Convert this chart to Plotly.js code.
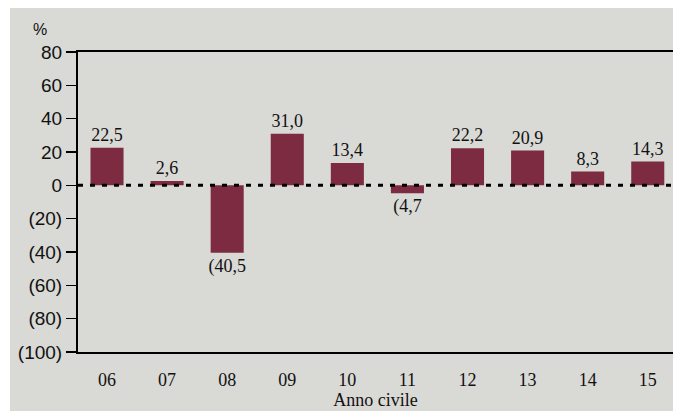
<!DOCTYPE html>
<html>
<head>
<meta charset="utf-8">
<script src="https://cdn.plot.ly/plotly-3.0.1.min.js"></script>
<style>
html,body{margin:0;padding:0;background:#fff;}
#chart{width:673px;height:411px;}
</style>
</head>
<body>
<div id="chart"></div>
<script>
var categories = ["06","07","08","09","10","11","12","13","14","15"];
var values = [22.5, 2.6, -40.5, 31.0, 13.4, -4.7, 22.2, 20.9, 8.3, 14.3];
var yTickVals = [80, 60, 40, 20, 0, -20, -40, -60, -80, -100];
var yTickText = ["80","60","40","20","0","(20)","(40)","(60)","(80)","(100)"];

function fmt(v){
  var s = Math.abs(v).toFixed(1).replace('.', ',');
  return v < 0 ? '(' + s : s;
}
var labels = values.map(fmt);

var trace = {
  type: 'bar',
  x: categories,
  y: values,
  width: 0.55,
  marker: {color: '#7C2B40', line: {width: 0}},
  text: labels,
  textposition: 'outside',
  constraintext: 'none',
  cliponaxis: false,
  textfont: {family: 'Liberation Serif, serif', size: 18, color: '#111'},
  hoverinfo: 'skip'
};

var layout = {
  width: 673, height: 411,
  margin: {l: 78, r: 0, t: 52, b: 59, pad: 0},
  paper_bgcolor: '#ffffff',
  plot_bgcolor: 'rgba(0,0,0,0)',
  showlegend: false,
  xaxis: {
    type: 'category',
    range: [-0.483, 9.42],
    showline: true, linecolor: '#000', linewidth: 2,
    mirror: true,
    showgrid: false, zeroline: false,
    ticks: 'outside', ticklen: 10, tickcolor: 'rgba(0,0,0,0)',
    tickfont: {family: 'Liberation Serif, serif', size: 18, color: '#111'},
    title: {text: 'Anno civile', standoff: 0,
            font: {family: 'Liberation Serif, serif', size: 18, color: '#111'}},
    automargin: false, fixedrange: true
  },
  yaxis: {
    range: [-100, 80],
    tickvals: yTickVals, ticktext: yTickText,
    showline: true, linecolor: '#000', linewidth: 2,
    showgrid: false, zeroline: false,
    ticks: 'outside', ticklen: 10, tickwidth: 1.5, tickcolor: '#000',
    tickfont: {family: 'Liberation Sans, Arial, sans-serif', size: 19, color: '#111'},
    automargin: false, fixedrange: true
  },
  shapes: [
    {type: 'rect', xref: 'paper', yref: 'paper',
     x0: (10-78)/595, x1: 1.01, y0: -59/300 - 0.01, y1: (352-8)/300,
     fillcolor: '#D9D9D5', line: {width: 0}, layer: 'below'},
    {type: 'line', xref: 'paper', yref: 'y', x0: 0, x1: 1, y0: 0, y1: 0,
     line: {color: '#000', width: 3, dash: '5px,7px'}, layer: 'above'}
  ],
  annotations: [
    {text: '%', xref: 'paper', yref: 'paper', x: (40-78)/595, y: (352-29)/300,
     showarrow: false, xanchor: 'center', yanchor: 'middle',
     font: {family: 'Liberation Sans, Arial, sans-serif', size: 16, color: '#111'}}
  ]
};

Plotly.newPlot('chart', [trace], layout, {staticPlot: true, displayModeBar: false});
</script>
</body>
</html>
